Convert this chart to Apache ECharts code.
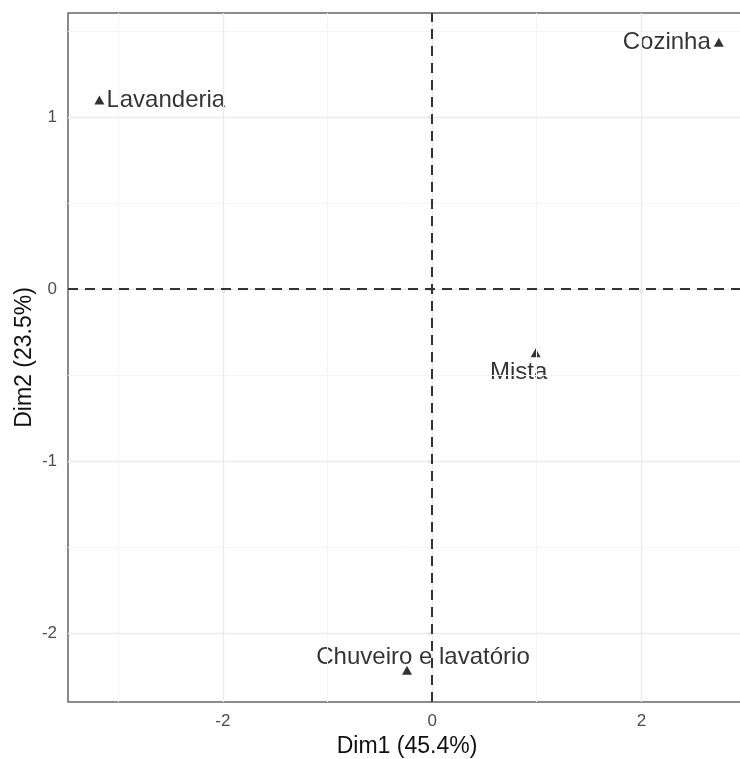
<!DOCTYPE html>
<html>
<head>
<meta charset="utf-8">
<script src="https://cdn.jsdelivr.net/npm/echarts@6/dist/echarts.min.js"></script>
<style>
  html, body { margin: 0; padding: 0; background: #fff; }
  #chart { width: 740px; height: 759px; }
</style>
</head>
<body>
<div id="chart"></div>
<script>
// individuals (PCA, first two dimensions)
const categories = ['Lavanderia', 'Cozinha', 'Mista', 'Chuveiro e lavatório']
const dim1 = [-3.18, 2.74, 0.99, -0.24]
const dim2 = [1.10, 1.435, -0.37, -2.215]

const xTicks = [-2, 0, 2]
const yTicks = [-2, -1, 0, 1]
const xMinor = [-3, -1, 1, 3]
const yMinor = [-1.5, -0.5, 0.5, 1.5]

const font = '"Liberation Sans", Arial, sans-serif'

// where each label sits relative to its point (ggrepel-like)
const labelPlace = {
  'Lavanderia': { position: 'right', distance: 2 },
  'Cozinha': { position: 'left', distance: 3 },
  'Mista': { position: 'bottom', distance: 3, offset: [-17, 0] },
  'Chuveiro e lavatório': { position: 'top', distance: 0, offset: [16, 4] }
}

const points = categories.map((name, i) => {
  const p = labelPlace[name]
  return {
    name,
    value: [dim1[i], dim2[i]],
    label: { show: true, formatter: name, position: p.position, distance: p.distance, offset: p.offset || [0, 0] }
  }
})

const gridLines = [
  ...xMinor.map(v => ({ xAxis: v, lineStyle: { color: '#f4f4f4', width: 1, type: 'solid' } })),
  ...yMinor.map(v => ({ yAxis: v, lineStyle: { color: '#f4f4f4', width: 1, type: 'solid' } })),
  ...xTicks.map(v => ({ xAxis: v, lineStyle: { color: '#ebebeb', width: 1.3, type: 'solid' } })),
  ...yTicks.map(v => ({ yAxis: v, lineStyle: { color: '#ebebeb', width: 1.3, type: 'solid' } }))
]

const chart = echarts.init(document.getElementById('chart'))
chart.setOption({
  animation: false,
  backgroundColor: '#fff',
  grid: {
    left: 68, right: -6, top: 13, bottom: 57,
    outerBoundsMode: 'none',
    containLabel: false,
    show: true, borderColor: '#666', borderWidth: 1.5, backgroundColor: 'transparent'
  },
  xAxis: {
    type: 'value',
    min: -3.48, max: 3.0,
    name: 'Dim1 (45.4%)',
    nameLocation: 'middle',
    nameGap: 33,
    nameTextStyle: { fontFamily: font, fontSize: 23, color: '#111' },
    axisLine: { show: false },
    axisTick: { show: true, length: 4, lineStyle: { color: '#333', width: 1.3 }, customValues: xTicks },
    axisLabel: { fontFamily: font, fontSize: 17, color: '#4d4d4d', margin: 11, customValues: xTicks },
    splitLine: { show: false }
  },
  yAxis: {
    type: 'value',
    min: -2.40, max: 1.605,
    name: 'Dim2 (23.5%)',
    nameLocation: 'middle',
    nameGap: 32,
    nameMoveOverlap: false,
    nameRotate: 90,
    nameTextStyle: { fontFamily: font, fontSize: 23, color: '#111' },
    axisLine: { show: false },
    axisTick: { show: true, length: 4, lineStyle: { color: '#333', width: 1.3 }, customValues: yTicks },
    axisLabel: { fontFamily: font, fontSize: 17, color: '#4d4d4d', margin: 11, customValues: yTicks },
    splitLine: { show: false }
  },
  series: [
    {
      type: 'scatter',
      data: [],
      silent: true,
      z: 1,
      markLine: { silent: true, symbol: 'none', label: { show: false }, animation: false, data: gridLines }
    },
    {
      type: 'scatter',
      data: [],
      silent: true,
      z: 2,
      markLine: {
        silent: true, symbol: 'none', label: { show: false }, animation: false,
        lineStyle: { color: '#333', width: 2, type: [10, 7] },
        data: [{ xAxis: 0 }, { yAxis: 0 }]
      }
    },
    {
      type: 'scatter',
      z: 3,
      symbol: 'triangle',
      symbolSize: [10, 9],
      itemStyle: { color: '#000' },
      label: { fontFamily: font, fontSize: 24, color: '#000', textBorderWidth: 0 },
      data: points
    }
  ]
})
</script>
</body>
</html>
